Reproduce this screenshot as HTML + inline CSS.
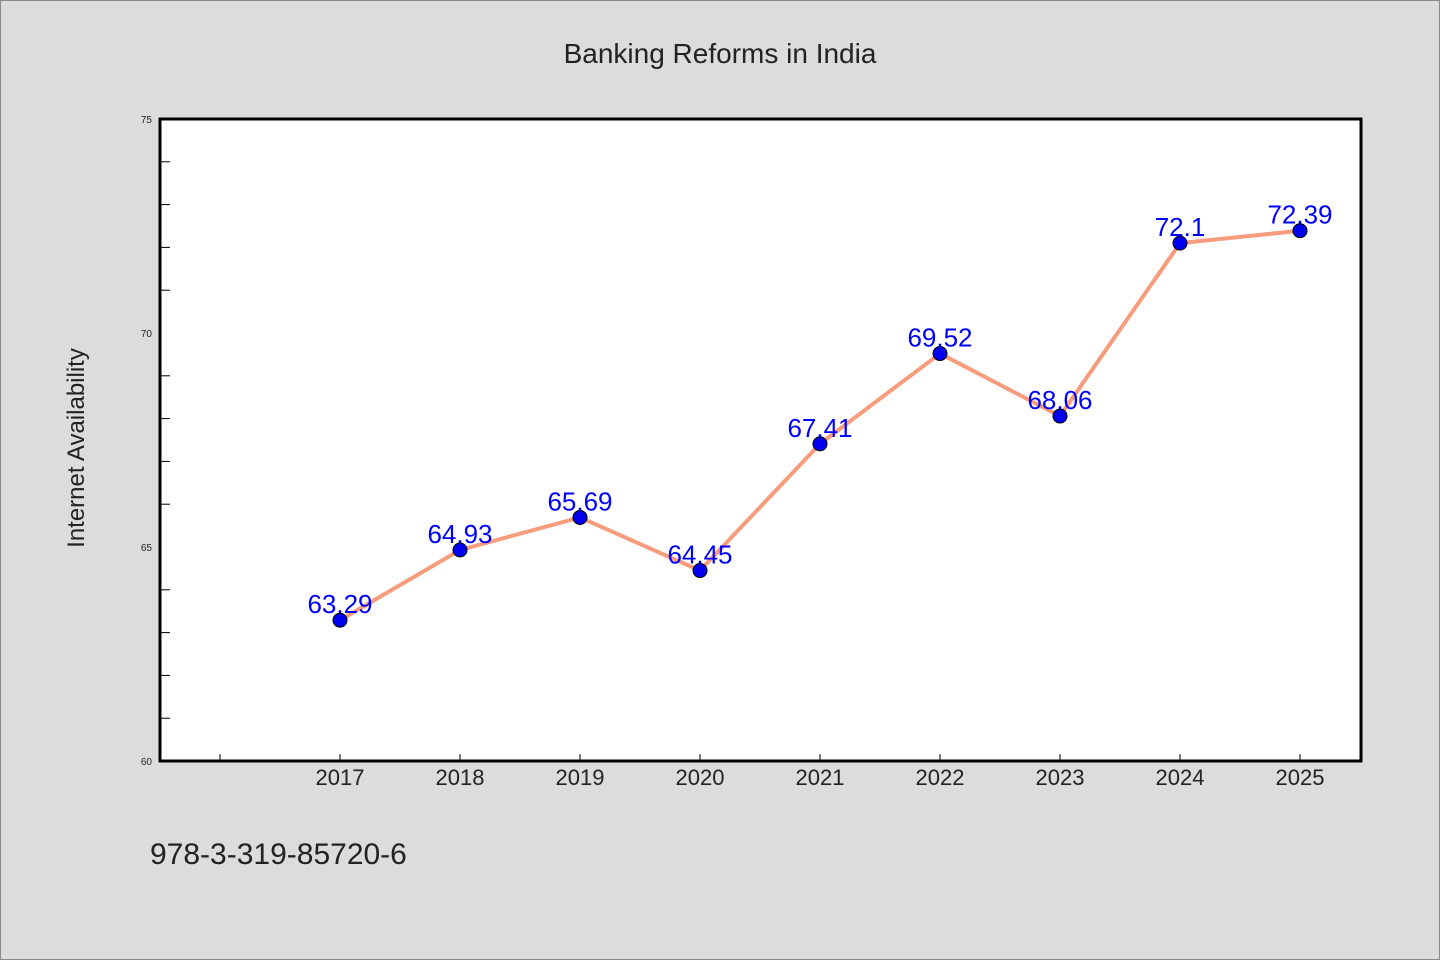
<!DOCTYPE html>
<html><head><meta charset="utf-8"><style>
body{margin:0;background:#dcdcdc;}
svg{display:block;font-family:"WenQuanYi Zen Hei","Liberation Sans",sans-serif;}
</style></head><body>
<svg id="c" width="1440" height="960" xmlns="http://www.w3.org/2000/svg">
<rect x="0.5" y="0.5" width="1439" height="959" fill="#dcdcdc" stroke="#888"/>
<text x="720" y="63" text-anchor="middle" font-size="28" fill="#222">Banking Reforms in India</text>
<rect x="160" y="119" width="1201" height="642" fill="#fff" stroke="#000" stroke-width="3"/>
<text transform="translate(84,448) rotate(-90)" text-anchor="middle" font-size="24" fill="#222">Internet Availability</text>
<text x="150" y="864" font-size="30" fill="#222">978-3-319-85720-6</text>
<g id="axes"></g><g id="marks"></g>
</svg>
<script>
const years=[2017,2018,2019,2020,2021,2022,2023,2024,2025];
const values=[63.29,64.93,65.69,64.45,67.41,69.52,68.06,72.1,72.39];
const labels=["63.29","64.93","65.69","64.45","67.41","69.52","68.06","72.1","72.39"];
const yTicks=[60,65,70,75];
const xTicks=[2016,2017,2018,2019,2020,2021,2022,2023,2024,2025];
const NS="http://www.w3.org/2000/svg";
const X=v=>160+(v-2015.5)*120;
const Y=v=>761-(v-60)*642/15;
function mk(t,a,p){const e=document.createElementNS(NS,t);for(const k in a)e.setAttribute(k,a[k]);p.appendChild(e);return e;}
const ax=document.getElementById('axes'),mg=document.getElementById('marks');
for(let v=61;v<75;v++){if(v%5===0)continue;const t=mk('line',{x1:160,x2:170,y1:Y(v),y2:Y(v),stroke:'#000','stroke-width':1},ax);

}
yTicks.forEach(v=>{const t=mk('text',{x:152,y:Y(v)+4,'text-anchor':'end','font-size':10,fill:'#222'},ax);t.textContent=v;

});
xTicks.forEach(v=>{const l=mk('line',{x1:X(v),x2:X(v),y1:761,y2:754,stroke:'#000','stroke-width':1},ax);


if(v>=2017){const t=mk('text',{x:X(v),y:785,'text-anchor':'middle','font-size':22,fill:'#222'},ax);t.textContent=v;

}});
const pts=years.map((y,i)=>X(y)+','+Y(values[i])).join(' ');
const pl=mk('polyline',{points:pts,fill:'none',stroke:'#f79c7c','stroke-width':4,'stroke-linejoin':'round'},mg);


years.forEach((y,i)=>{const c=mk('circle',{cx:X(y),cy:Y(values[i]),r:7,fill:'#0000ee',stroke:'#000','stroke-width':1},mg);


const t=mk('text',{x:X(y),y:Y(values[i])-7,'text-anchor':'middle','font-size':26,fill:'#0000ff'},mg);t.textContent=labels[i];

});
</script>
</body></html>
